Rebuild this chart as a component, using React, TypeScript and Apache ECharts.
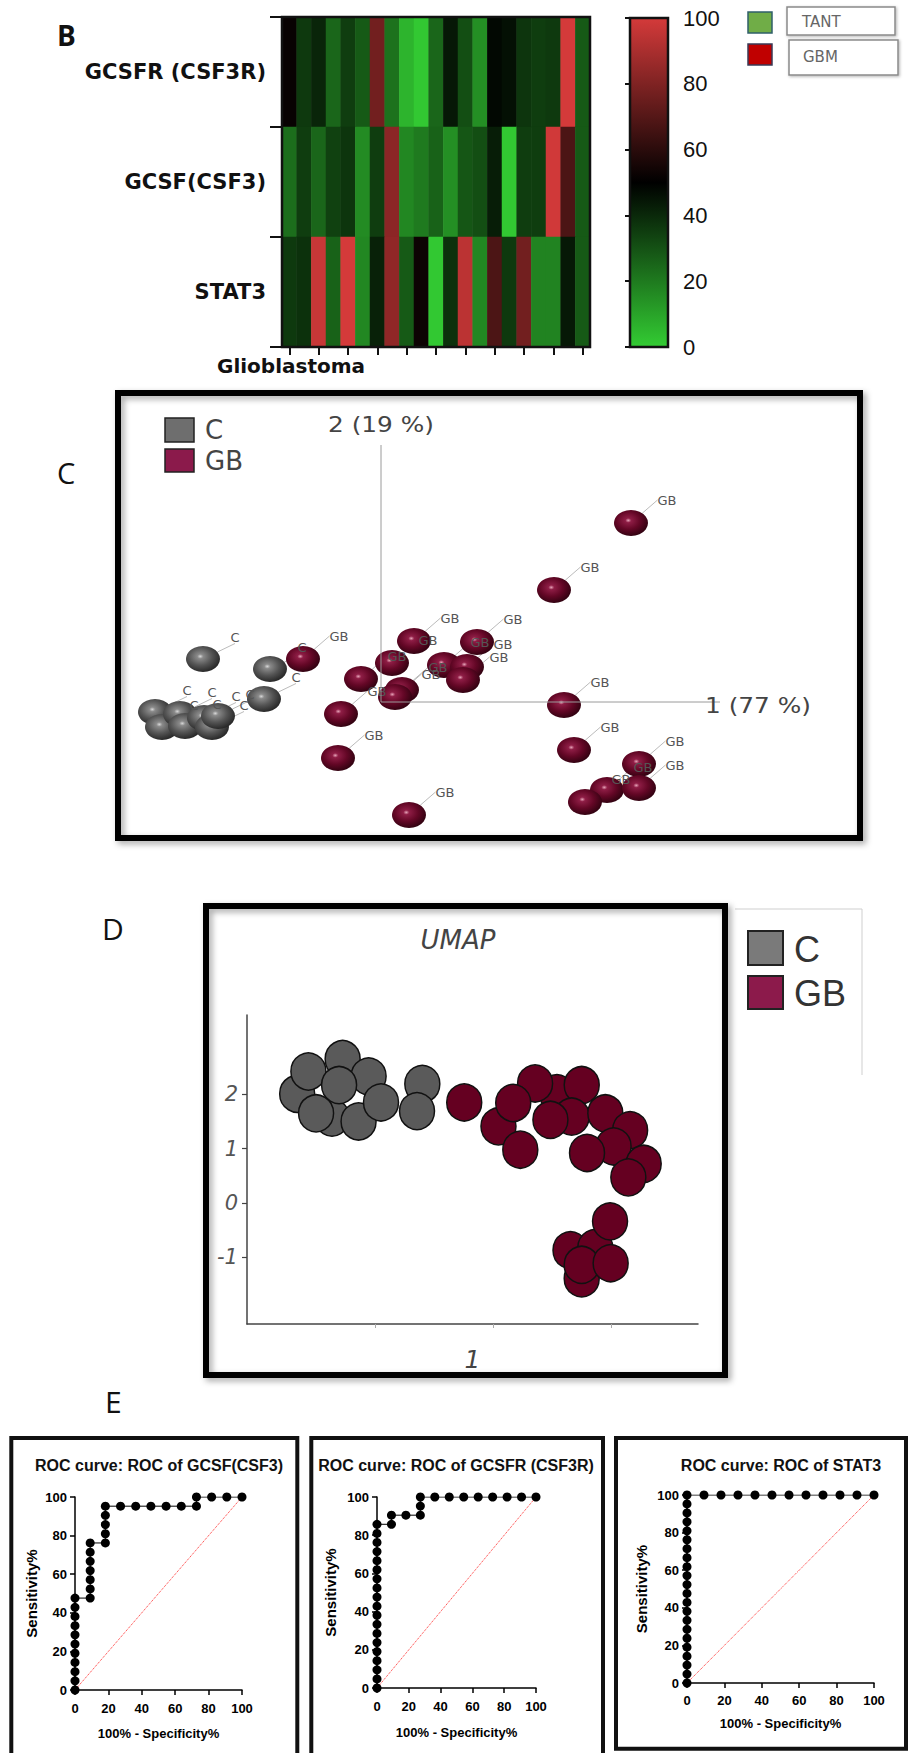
import React, { useEffect, useRef } from 'react';
import * as echarts from 'echarts';

// ---------- Panel B: heatmap ----------
const heatCols = ['1','2','3','4','5','6','7','8','9','10','11','12','13','14','15','16','17','18','19','20','21'];
const heatGenes = ['GCSFR (CSF3R)', 'GCSF(CSF3)', 'STAT3'];
const heatGCSFR = [52, 36, 41, 25, 35, 28, 77, 22, 6, 1, 25, 44, 31, 15, 48, 46, 37, 35, 36, 100, 28];
const heatGCSF = [23, 35, 25, 34, 37, 16, 35, 83, 17, 20, 26, 15, 29, 31, 43, 1, 35, 35, 99, 68, 28];
const heatSTAT3 = [36, 38, 97, 26, 100, 17, 42, 84, 28, 53, 1, 38, 94, 17, 68, 36, 77, 18, 18, 44, 28];
const colorbarTicks = [0, 20, 40, 60, 80, 100];

// ---------- Panel C: PCA scores ----------
const pcaAxisLine = [[0, 25.7], [0, 0], [33.9, 0]];
const pcaC = [[-22.6, -1.0], [-21.9, -2.5], [-20.1, -1.2], [-19.6, -2.4], [-17.7, -1.6], [-16.9, -2.5], [-16.3, -1.4], [-17.8, 4.3], [-11.1, 3.3], [-11.7, 0.3]];
const pcaGB = [[-7.8, 4.3], [-4.3, -5.6], [-4.0, -1.2], [-2.0, 2.3], [2.8, -11.3], [1.1, 3.9], [3.3, 6.1], [2.1, 1.2], [1.4, 0.5], [6.3, 3.7], [8.6, 3.5], [8.2, 2.2], [9.6, 6.0], [17.3, 11.2], [25.0, 17.9], [18.3, -0.3], [19.3, -4.8], [25.8, -6.2], [22.6, -8.8], [25.8, -8.6], [20.4, -10.0]];

// ---------- Panel D: UMAP ----------
const umapC = [[-1.32, 2.01], [-1.13, 2.42], [-0.55, 2.65], [-0.11, 2.33], [-0.73, 1.57], [-0.61, 2.17], [-1.0, 1.65], [-0.28, 1.5], [0.1, 1.85], [0.8, 2.19], [0.71, 1.69]];
const umapGB = [[3.08, 2.02], [2.71, 2.2], [3.5, 2.17], [1.51, 1.85], [2.09, 1.41], [2.34, 1.84], [2.46, 0.98], [3.33, 1.59], [2.97, 1.53], [3.9, 1.65], [4.32, 1.34], [4.04, 1.04], [3.59, 0.92], [4.55, 0.72], [4.29, 0.47], [3.5, -1.39], [3.31, -0.87], [3.73, -0.83], [3.98, -0.34], [3.5, -1.14], [3.99, -1.11]];
const umapYTicks = [-1, 0, 1, 2];
const umapXTicks = [0, 2, 4];

// ---------- Panel E: ROC curves ----------
const rocGCSF = [[0, 0], [0, 4.76], [0, 9.52], [0, 14.29], [0, 19.05], [0, 23.81], [0, 28.57], [0, 33.33], [0, 38.1], [0, 42.86], [0, 47.62], [9.09, 47.62], [9.09, 52.38], [9.09, 57.14], [9.09, 61.9], [9.09, 66.67], [9.09, 71.43], [9.09, 76.19], [18.18, 76.19], [18.18, 80.95], [18.18, 85.71], [18.18, 90.48], [18.18, 95.24], [27.27, 95.24], [36.36, 95.24], [45.45, 95.24], [54.55, 95.24], [63.64, 95.24], [72.73, 95.24], [72.73, 100], [81.82, 100], [90.91, 100], [100, 100]];
const rocGCSFR = [[0, 0], [0, 4.76], [0, 9.52], [0, 14.29], [0, 19.05], [0, 23.81], [0, 28.57], [0, 33.33], [0, 38.1], [0, 42.86], [0, 47.62], [0, 52.38], [0, 57.14], [0, 61.9], [0, 66.67], [0, 71.43], [0, 76.19], [0, 80.95], [0, 85.71], [9.09, 85.71], [9.09, 90.48], [18.18, 90.48], [27.27, 90.48], [27.27, 95.24], [27.27, 100], [36.36, 100], [45.45, 100], [54.55, 100], [63.64, 100], [72.73, 100], [81.82, 100], [90.91, 100], [100, 100]];
const rocSTAT3 = [[0, 0], [0, 4.76], [0, 9.52], [0, 14.29], [0, 19.05], [0, 23.81], [0, 28.57], [0, 33.33], [0, 38.1], [0, 42.86], [0, 47.62], [0, 52.38], [0, 57.14], [0, 61.9], [0, 66.67], [0, 71.43], [0, 76.19], [0, 80.95], [0, 85.71], [0, 90.48], [0, 95.24], [0, 100], [9.09, 100], [18.18, 100], [27.27, 100], [36.36, 100], [45.45, 100], [54.55, 100], [63.64, 100], [72.73, 100], [81.82, 100], [90.91, 100], [100, 100]];
const rocDiagonal = [[0, 0], [100, 100]];
const rocTitles = ['ROC curve: ROC of GCSF(CSF3)', 'ROC curve: ROC of GCSFR (CSF3R)', 'ROC curve: ROC of STAT3'];

const grayBall = {
  type: 'radial', x: 0.42, y: 0.4, r: 0.62,
  colorStops: [
    { offset: 0, color: '#d8d8d8' }, { offset: 0.14, color: '#8a8a8a' },
    { offset: 0.55, color: '#555555' }, { offset: 1, color: '#262626' },
  ],
};
const gbBall = {
  type: 'radial', x: 0.42, y: 0.4, r: 0.62,
  colorStops: [
    { offset: 0, color: '#e7a3b8' }, { offset: 0.14, color: '#8e1d45' },
    { offset: 0.55, color: '#640726' }, { offset: 1, color: '#300210' },
  ],
};

const rocFont = 'Liberation Sans, Arial, sans-serif';

function rocX(gridIndex: number, nameGap: number, margin: number) {
  return {
    type: 'value', gridIndex, min: 0, max: 100, interval: 20,
    axisLine: { show: true, onZero: false, lineStyle: { color: '#000', width: 1.5 } },
    axisTick: { show: true, length: 5, lineStyle: { color: '#000', width: 1.5 } },
    axisLabel: { fontSize: 13, fontWeight: 'bold', color: '#000', fontFamily: rocFont, margin },
    splitLine: { show: false },
    name: '100% - Specificity%', nameLocation: 'middle', nameGap,
    nameTextStyle: { fontSize: 13, fontWeight: 'bold', color: '#000', fontFamily: rocFont },
  };
}
function rocY(gridIndex: number, nameGap: number) {
  return {
    type: 'value', gridIndex, min: 0, max: 100, interval: 20,
    axisLine: { show: true, onZero: false, lineStyle: { color: '#000', width: 1.5 } },
    axisTick: { show: true, length: 5, lineStyle: { color: '#000', width: 1.5 } },
    axisLabel: { fontSize: 13, fontWeight: 'bold', color: '#000', fontFamily: rocFont, margin: 8 },
    splitLine: { show: false },
    name: 'Sensitivity%', nameLocation: 'middle', nameGap,
    nameTextStyle: { fontSize: 15, fontWeight: 'bold', color: '#000', fontFamily: rocFont },
  };
}
function rocSeries(data: number[][], idx: number) {
  return [
    {
      type: 'line', xAxisIndex: idx, yAxisIndex: idx, data: rocDiagonal, symbol: 'none', silent: true,
      lineStyle: { color: '#ff2a2a', width: 1, type: 'dotted' },
    },
    {
      type: 'line', xAxisIndex: idx, yAxisIndex: idx, data, symbol: 'circle', symbolSize: 9, silent: true,
      itemStyle: { color: '#000', opacity: 1 }, lineStyle: { color: '#000', width: 1 },
    },
  ];
}

function txt(text: string, x: number, y: number, o: any = {}) {
  const { scaleX, scaleY, z, ...style } = o;
  return {
    type: 'text', x, y, z: z ?? 20, scaleX: scaleX ?? 1, scaleY: scaleY ?? 1,
    style: { text, fill: '#111', align: 'left', verticalAlign: 'middle', fontFamily: 'DejaVu Sans', ...style },
  };
}
function box(x: number, y: number, w: number, h: number, lw: number, o: any = {}) {
  return {
    type: 'rect', z: 30, shape: { x, y, width: w, height: h },
    style: { fill: 'none', stroke: '#000', lineWidth: lw, ...o },
  };
}

export default function App() {
  const ref = useRef<HTMLDivElement>(null);
  useEffect(() => {
    if (!ref.current) return;
    const chart = echarts.init(ref.current, undefined, { renderer: 'svg' });

    const heatData: number[][] = [];
    [heatGCSFR, heatGCSF, heatSTAT3].forEach((row, r) => row.forEach((v, c) => heatData.push([c, r, v])));

    const shadow = { shadowBlur: 6, shadowColor: 'rgba(0,0,0,0.35)', shadowOffsetX: 3, shadowOffsetY: 3 };

    const graphic: any[] = [
      // panel letters
      txt('B', 57, 35, { fontSize: 28, fontWeight: 'bold', fontFamily: 'Open Sans' }),
      txt('C', 57, 472, { fontSize: 29, fontFamily: 'Open Sans' }),
      txt('D', 102, 928, { fontSize: 30, fontFamily: 'Open Sans' }),
      txt('E', 105, 1401, { fontSize: 30, fontFamily: 'Open Sans' }),
      // heatmap frame + group label
      box(282, 17, 308, 330, 2.5, { stroke: '#111' }),
      txt('Glioblastoma', 291, 366, { fontSize: 20, fontWeight: 'bold', align: 'center' }),
      // colour bar
      {
        type: 'rect', z: -10, shape: { x: 630, y: 18, width: 38, height: 329 },
        style: {
          fill: new echarts.graphic.LinearGradient(0, 0, 0, 1, [
            { offset: 0, color: '#d43a3a' }, { offset: 0.5, color: '#000000' }, { offset: 1, color: '#33cc33' },
          ]),
        },
      },
      box(630, 18, 38, 329, 2.5, { stroke: '#111' }),
      // TANT / GBM legend
      { type: 'rect', z: 20, shape: { x: 748, y: 12, width: 24, height: 21 }, style: { fill: '#70ad47', stroke: '#2f5f6a', lineWidth: 1.5 } },
      { type: 'rect', z: 20, shape: { x: 748, y: 44, width: 24, height: 21 }, style: { fill: '#c00000', stroke: '#3a3a55', lineWidth: 1.5 } },
      { type: 'rect', z: 20, shape: { x: 787, y: 7, width: 108, height: 28 }, style: { fill: '#fff', stroke: '#8a8a8a', lineWidth: 1.5, shadowBlur: 3, shadowColor: 'rgba(0,0,0,0.3)', shadowOffsetX: 1, shadowOffsetY: 1 } },
      { type: 'rect', z: 20, shape: { x: 789, y: 40, width: 109, height: 35 }, style: { fill: '#fff', stroke: '#8a8a8a', lineWidth: 1.5, shadowBlur: 3, shadowColor: 'rgba(0,0,0,0.3)', shadowOffsetX: 1, shadowOffsetY: 1 } },
      txt('TANT', 802, 22, { fontSize: 15, fill: '#666', z: 21 }),
      txt('GBM', 803, 57, { fontSize: 15, fill: '#666', z: 21 }),
      // PCA frame, legend, axis names
      box(118, 393, 742, 445, 6, shadow),
      { type: 'rect', z: 20, shape: { x: 165, y: 418, width: 29, height: 24 }, style: { fill: '#6e6e6e', stroke: '#222', lineWidth: 1.5 } },
      { type: 'rect', z: 20, shape: { x: 165, y: 449, width: 29, height: 23 }, style: { fill: '#8b1a4b', stroke: '#222', lineWidth: 1.5 } },
      txt('C', 205, 430, { fontSize: 26, fill: '#444' }),
      txt('GB', 205, 461, { fontSize: 26, fill: '#444' }),
      txt('2 (19 %)', 381, 425, { fontSize: 21, fill: '#444', align: 'center', scaleX: 1.18 }),
      txt('1 (77 %)', 705, 706, { fontSize: 21, fill: '#444', scaleX: 1.18 }),
      // UMAP frame, title, legend
      box(206, 906, 519, 469, 6, shadow),
      txt('UMAP', 458, 940, { fontSize: 26, fontStyle: 'italic', fill: '#444', align: 'center' }),
      { type: 'polyline', z: 20, shape: { points: [[735, 909], [862, 909], [862, 1075]] }, style: { stroke: '#cfcfcf', lineWidth: 1, fill: 'none' } },
      { type: 'rect', z: 20, shape: { x: 748, y: 931, width: 35, height: 34 }, style: { fill: '#7a7a7a', stroke: '#222', lineWidth: 2 } },
      { type: 'rect', z: 20, shape: { x: 748, y: 976, width: 35, height: 33 }, style: { fill: '#8c1a4b', stroke: '#222', lineWidth: 2 } },
      txt('C', 794, 949, { fontSize: 36, fill: '#333', fontFamily: 'Liberation Sans' }),
      txt('GB', 794, 993, { fontSize: 36, fill: '#333', fontFamily: 'Liberation Sans' }),
      // ROC frames + titles
      box(11.3, 1438, 286, 340, 4, { stroke: '#111' }),
      box(311.3, 1438, 291.7, 340, 4, { stroke: '#111' }),
      box(616, 1438, 290, 310.7, 4, { stroke: '#111' }),
      txt(rocTitles[0], 159, 1465, { fontSize: 16, fontWeight: 'bold', fontFamily: rocFont, align: 'center' }),
      txt(rocTitles[1], 456, 1465, { fontSize: 16, fontWeight: 'bold', fontFamily: rocFont, align: 'center' }),
      txt(rocTitles[2], 781, 1465, { fontSize: 16, fontWeight: 'bold', fontFamily: rocFont, align: 'center' }),
    ];

    const pcaLabel = (t: string) => ({
      show: true, formatter: t, position: 'inside', color: '#555', fontSize: 13, fontFamily: 'DejaVu Sans',
    });

    const option: any = {
      animation: false,
      grid: [
        { left: 282, top: 17, width: 308, height: 330, outerBoundsMode: 'none' },
        { left: 630, top: 18, width: 38, height: 329, outerBoundsMode: 'none' },
        { left: 122, top: 396, width: 734, height: 439, outerBoundsMode: 'none' },
        { left: 247, top: 1015, width: 451, height: 309, outerBoundsMode: 'none' },
        { left: 75, top: 1497, width: 167, height: 193, outerBoundsMode: 'none' },
        { left: 377, top: 1497, width: 159, height: 191, outerBoundsMode: 'none' },
        { left: 687, top: 1495, width: 187, height: 188, outerBoundsMode: 'none' },
      ],
      xAxis: [
        {
          type: 'category', gridIndex: 0, data: heatCols,
          axisLabel: { show: false },
          axisTick: { show: true, alignWithLabel: true, interval: 1, length: 8, lineStyle: { color: '#111', width: 2 } },
          axisLine: { show: true, lineStyle: { color: '#111', width: 2 } },
        },
        { type: 'value', gridIndex: 1, show: false },
        { type: 'value', gridIndex: 2, min: -25.9, max: 47.5, show: false },
        {
          type: 'value', gridIndex: 3, min: -2.17, max: 5.47,
          axisLine: { show: true, onZero: false, lineStyle: { color: '#444', width: 1.5 } },
          axisTick: { show: true, customValues: umapXTicks, length: 4, lineStyle: { color: '#aaa', width: 1 } },
          axisLabel: { show: false }, splitLine: { show: false },
          name: '1', nameLocation: 'middle', nameGap: 23,
          nameTextStyle: { fontStyle: 'italic', fontSize: 25, color: '#444', fontFamily: 'DejaVu Sans' },
        },
        rocX(4, 37, 12),
        rocX(5, 38, 12),
        rocX(6, 34, 11),
      ],
      yAxis: [
        {
          type: 'category', gridIndex: 0, data: heatGenes, inverse: true,
          axisLabel: { margin: 16, fontSize: 21, fontWeight: 'bold', fontFamily: 'DejaVu Sans', color: '#111' },
          axisTick: { show: true, length: 12, lineStyle: { color: '#111', width: 2 } },
          axisLine: { show: true, lineStyle: { color: '#111', width: 2 } },
        },
        {
          type: 'value', gridIndex: 1, min: 0, max: 100, interval: 20, position: 'right',
          axisLine: { show: false },
          axisTick: { show: true, inside: true, length: 5, customValues: colorbarTicks, lineStyle: { color: '#111', width: 2 } },
          axisLabel: { margin: 15, fontSize: 22, color: '#111', fontFamily: 'Liberation Sans' },
          splitLine: { show: false },
        },
        { type: 'value', gridIndex: 2, min: -13.3, max: 30.6, show: false },
        {
          type: 'value', gridIndex: 3, min: -2.23, max: 3.46,
          axisLine: { show: true, onZero: false, lineStyle: { color: '#444', width: 1.5 } },
          axisTick: { show: true, customValues: umapYTicks, length: 5, lineStyle: { color: '#444', width: 1.2 } },
          axisLabel: { customValues: umapYTicks, fontStyle: 'italic', fontSize: 21, color: '#555', fontFamily: 'DejaVu Sans', margin: 9 },
          splitLine: { show: false },
        },
        rocY(4, 36),
        rocY(5, 39),
        rocY(6, 38),
      ],
      visualMap: [
        {
          type: 'continuous', min: 0, max: 100, seriesIndex: 0, show: false,
          inRange: { color: ['#33cc33', '#000000', '#d43a3a'] },
        },
      ],
      series: [
        {
          type: 'heatmap', xAxisIndex: 0, yAxisIndex: 0, data: heatData, silent: true,
          itemStyle: { borderWidth: 0 }, emphasis: { disabled: true },
        },
        {
          type: 'line', xAxisIndex: 2, yAxisIndex: 2, data: pcaAxisLine, symbol: 'none', silent: true,
          lineStyle: { color: '#9a9a9a', width: 1 },
        },
        {
          type: 'scatter', xAxisIndex: 2, yAxisIndex: 2, data: pcaC, symbolSize: [34, 26], silent: true,
          itemStyle: { color: grayBall, opacity: 1 }, label: pcaLabel('C'),
          labelLayout: { dx: 32, dy: -22 }, labelLine: { show: true, lineStyle: { color: '#bbb', width: 1 } },
        },
        {
          type: 'scatter', xAxisIndex: 2, yAxisIndex: 2, data: pcaGB, symbolSize: [34, 26], silent: true,
          itemStyle: { color: gbBall, opacity: 1 }, label: pcaLabel('GB'),
          labelLayout: { dx: 36, dy: -23 }, labelLine: { show: true, lineStyle: { color: '#bbb', width: 1 } },
        },
        {
          type: 'scatter', xAxisIndex: 3, yAxisIndex: 3, data: umapC, symbolSize: [35, 37], silent: true,
          itemStyle: { color: '#5a5a5a', borderColor: '#111', borderWidth: 1.5, opacity: 1 },
        },
        {
          type: 'scatter', xAxisIndex: 3, yAxisIndex: 3, data: umapGB, symbolSize: [35, 37], silent: true,
          itemStyle: { color: '#650021', borderColor: '#111', borderWidth: 1.5, opacity: 1 },
        },
        ...rocSeries(rocGCSF, 4),
        ...rocSeries(rocGCSFR, 5),
        ...rocSeries(rocSTAT3, 6),
      ],
      graphic,
    };

    chart.setOption(option);
    return () => chart.dispose();
  }, []);

  return <div ref={ref} style={{ position: 'absolute', left: 0, top: 0, width: 913, height: 1753 }} />;
}
